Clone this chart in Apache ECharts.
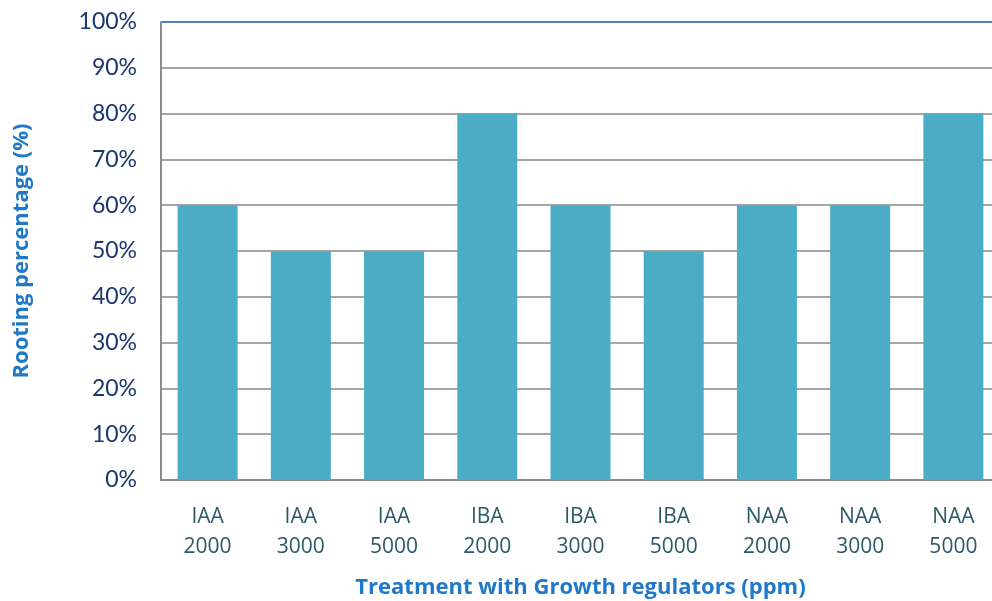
<!DOCTYPE html>
<html><head><meta charset="utf-8">
<script src="https://cdn.jsdelivr.net/npm/echarts@6/dist/echarts.min.js"></script>
<style>html,body{margin:0;padding:0;background:#fff}#c{width:992px;height:601px}</style>
</head><body><div id="c"></div>
<script>
const categories = ["IAA\n2000","IAA\n3000","IAA\n5000","IBA\n2000","IBA\n3000","IBA\n5000","NAA\n2000","NAA\n3000","NAA\n5000"];
const rooting = [60,50,50,80,60,50,60,60,80];
const yTicks = [0,10,20,30,40,50,60,70,80,90,100];
const gridColors = yTicks.map((v,i)=> i===yTicks.length-1 ? '#4f81bd' : '#a6a6a6');
const chart = echarts.init(document.getElementById('c'));
chart.setOption({
  animation:false,
  grid:{left:161,right:-8,top:22,bottom:121,containLabel:false,outerBoundsMode:'none'},
  xAxis:{type:'category',data:categories,
    axisLine:{lineStyle:{color:'#8c8c8c',width:2}},
    axisTick:{show:false},
    axisLabel:{color:'#2b5a66',fontFamily:'Open Sans',fontSize:21,lineHeight:30,margin:22,interval:0},
    name:'Treatment with Growth regulators (ppm)',nameLocation:'middle',nameGap:97,
    nameTextStyle:{color:'#1f78c8',fontFamily:'Open Sans',fontWeight:'bold',fontSize:22}
  },
  yAxis:{type:'value',min:0,max:100,interval:10,
    axisLine:{show:true,lineStyle:{color:'#8c8c8c',width:2}},
    axisTick:{show:false},
    splitLine:{lineStyle:{color:gridColors,width:2}},
    axisLabel:{color:'#1a3570',fontFamily:'Lato',fontSize:23,margin:24,formatter:v=>v+'%'},
    name:'Rooting percentage (%)',nameLocation:'middle',nameGap:128,
    nameTextStyle:{color:'#1f78c8',fontFamily:'Open Sans',fontWeight:'bold',fontSize:22}
  },
  series:[{type:'bar',data:rooting,barWidth:60,itemStyle:{color:'#4bacc6'}}]
});
</script></body></html>
